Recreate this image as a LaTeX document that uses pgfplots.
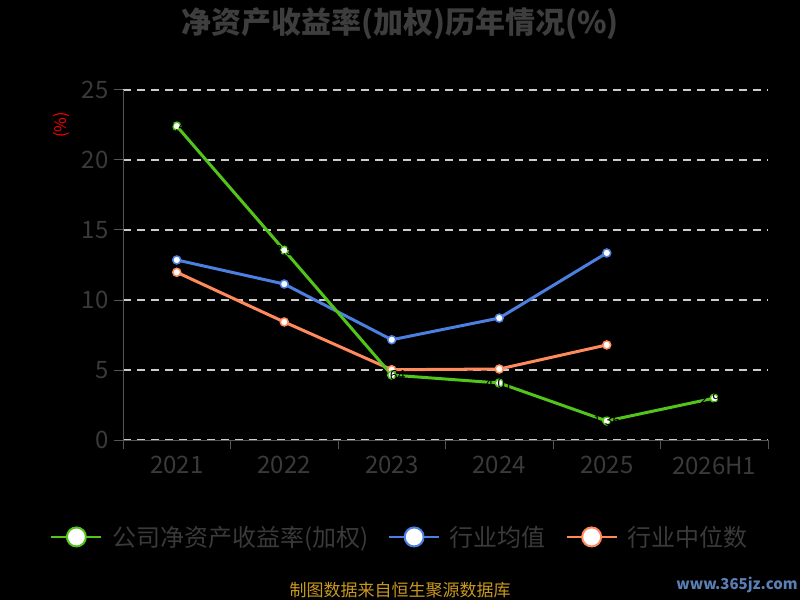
\documentclass[border=0pt]{standalone}
\usepackage{pgfplots}
\pgfplotsset{compat=1.18}
\usepackage{fontspec}
\setmainfont{Noto Sans CJK SC}
\definecolor{cg}{HTML}{52C41A}
\definecolor{cb}{HTML}{4B7FE0}
\definecolor{co}{HTML}{FF8A5C}
\definecolor{titlegray}{HTML}{3D3D3D}
\definecolor{tickgray}{HTML}{3A3A3A}
\definecolor{axgray}{HTML}{555555}
\definecolor{gridc}{HTML}{CCCCCC}
\definecolor{gold}{HTML}{C9981F}
\definecolor{wm}{HTML}{5A7FB5}
\begin{document}
\begin{tikzpicture}[x=1pt,y=1pt]
\useasboundingbox (0,0) rectangle (800,600);
\fill[black] (0,0) rectangle (800,600);
\node[font=\fontsize{30}{32}\selectfont\bfseries, text=titlegray] at (400,576) {净资产收益率(加权)历年情况(\%)};
\node[font=\fontsize{16}{18}\selectfont, text=red, rotate=90] at (62,475) {(\%)};
\node[font=\fontsize{17}{19}\selectfont, text=gold] at (400,10) {制图数据来自恒生聚源数据库};
\node[font=\fontsize{15}{17}\selectfont\bfseries, text=wm] at (737,15) {www.365jz.com};
\begin{axis}[
  at={(123pt,160pt)}, anchor=south west,
  width=645pt, height=350pt, scale only axis,
  xmin=-0.5, xmax=5.5, ymin=0, ymax=25,
  axis x line*=bottom, axis y line*=left,
  axis line style={axgray, line width=1pt, -},
  xtick={-0.5,0.5,1.5,2.5,3.5,4.5,5.5},
  xticklabels={},
  extra x ticks={0,1,2,3,4,5},
  extra x tick labels={2021,2022,2023,2024,2025,2026H1},
  extra x tick style={major tick length=0pt, xticklabel style={yshift=-13pt}},
  ytick={0,5,10,15,20,25},
  tick align=outside,
  major tick length=9pt,
  tick style={axgray, line width=1pt},
  ymajorgrids,
  major grid style={gridc, line width=1.5pt, dash pattern=on 8pt off 6pt},
  tick label style={font=\fontsize{24}{26}\selectfont, text=tickgray},
  /pgf/number format/assume math mode=true,
  yticklabel style={xshift=-2pt},
  legend columns=3,
  legend style={at={(0.4295,-0.277)}, anchor=center, draw=none, fill=none,
    text=tickgray, font=\fontsize{24}{26}\selectfont,
    /tikz/every odd column/.append style={column sep=8pt},
    /tikz/every even column/.append style={column sep=18pt}},
  legend image code/.code={
    \draw[#1, mark=none, line width=1.5pt] (0pt,0pt) -- (50pt,0pt);
    \draw[#1, mark=none, line width=2pt, fill=white] (25pt,0pt) circle (9.5pt);
  },
]
\addplot[cb, line width=3pt, mark=*, mark size=4pt, mark options={fill=white, line width=1.5pt}, forget plot]
  coordinates {(0,12.86) (1,11.14) (2,7.16) (3,8.71) (4,13.36)};
\addplot[co, line width=3pt, mark=*, mark size=4pt, mark options={fill=white, line width=1.5pt}, forget plot]
  coordinates {(0,11.98) (1,8.43) (2,5.02) (3,5.07) (4,6.79)};
\addplot[cg, line width=3pt, mark=*, mark size=4pt, mark options={fill=white, line width=1.5pt},
  nodes near coords, point meta=y,
  every node near coord/.append style={font=\fontsize{14}{16}\selectfont, text=black, anchor=center, yshift=0pt,
    /pgf/number format/fixed, /pgf/number format/precision=2, /pgf/number format/fixed zerofill}]
  coordinates {(0,22.42) (1,13.55) (2,4.64) (3,4.07) (4,1.36) (5,2.99)};
\addlegendentry{公司净资产收益率(加权)}
\addlegendimage{cb}
\addlegendentry{行业均值}
\addlegendimage{co}
\addlegendentry{行业中位数}
\end{axis}
\end{tikzpicture}
\end{document}
